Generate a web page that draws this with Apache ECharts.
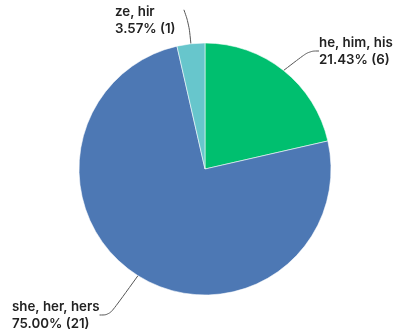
<!DOCTYPE html>
<html>
<head>
<meta charset="utf-8">
<script src="https://cdn.jsdelivr.net/npm/echarts@6/dist/echarts.min.js"></script>
<style>
  html, body { margin: 0; padding: 0; background: #fff; }
  #chart { width: 396px; height: 336px; }
</style>
</head>
<body>
<div id="chart"></div>
<script>
// Pronoun responses
const categories = ['he, him, his', 'she, her, hers', 'ze, hir'];
const counts = [6, 21, 1];
const colors = ['#00bf6f', '#4d78b4', '#67c6cc'];

const total = counts.reduce((a, b) => a + b, 0);

// Label anchor (top-left corner of each label box), by slice index
const labelSpots = [
  { x: 319, y: 34 },
  { x: 12, y: 298 },
  { x: 115, y: 3 }
];

const chart = echarts.init(document.getElementById('chart'), null, { renderer: 'canvas' });

chart.setOption({
  animation: false,
  series: [{
    type: 'pie',
    center: [205, 169],
    radius: 126,
    startAngle: 90,
    clockwise: true,
    data: categories.map((name, i) => ({
      name,
      value: counts[i],
      itemStyle: { color: colors[i] }
    })),
    itemStyle: { borderColor: 'rgba(255,255,255,0.7)', borderWidth: 0.8 },
    label: {
      show: true,
      position: 'outside',
      formatter: p => p.name + '\n' + (p.value / total * 100).toFixed(2) + '% (' + p.value + ')',
      fontFamily: 'Inter',
      fontSize: 13.3,
      fontWeight: 600,
      lineHeight: 17,
      color: '#222',
      align: 'left'
    },
    labelLine: {
      show: true,
      smooth: 0.4,
      length: 10,
      length2: 10,
      lineStyle: { color: '#555', width: 1 }
    },
    labelLayout: params => {
      const spot = labelSpots[params.dataIndex];
      const out = { x: spot.x, y: spot.y, align: 'left', verticalAlign: 'top' };
      // the small top slice's leader rises almost straight up beside its label
      if (params.dataIndex === 2) {
        const start = params.labelLinePoints[0];
        out.labelLinePoints = [start, [start[0] - 2, start[1] - 20], [start[0] - 7, start[1] - 34]];
      }
      return out;
    }
  }]
});
</script>
</body>
</html>
